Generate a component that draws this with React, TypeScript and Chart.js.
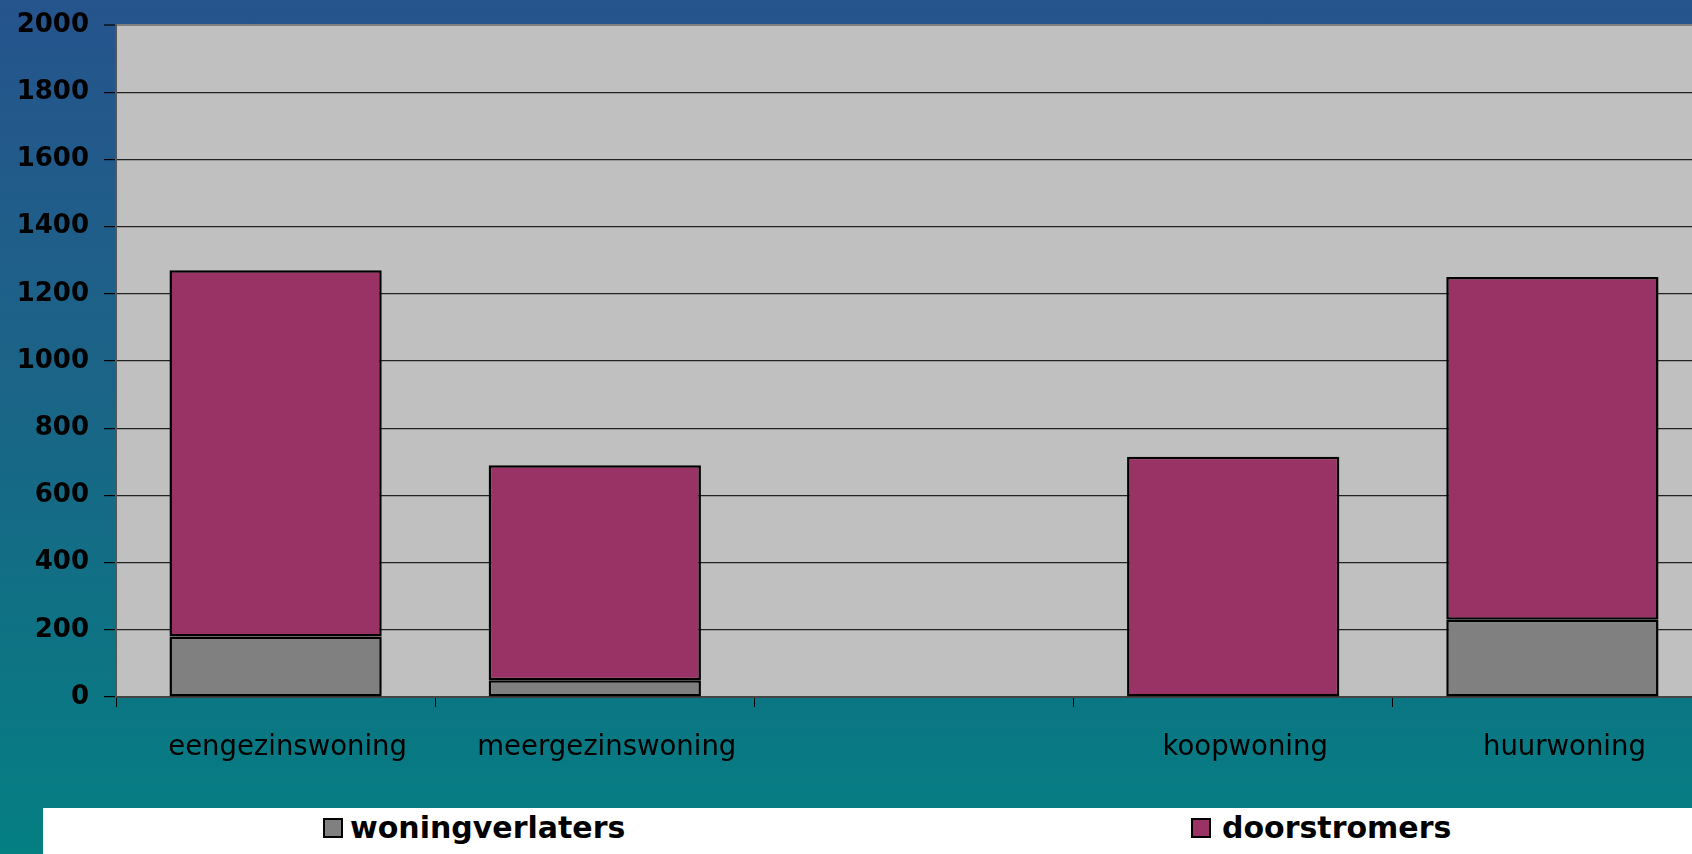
import React, { useEffect, useRef } from "react";
import { Chart, registerables } from "chart.js";

Chart.register(...registerables);

const categories = ["eengezinswoning", "meergezinswoning", "", "koopwoning", "huurwoning"];
const woningverlaters = [180, 50, null, null, 230];
const doorstromers = [1090, 640, null, 715, 1020];
const seriesNames = ["woningverlaters", "doorstromers"];
const seriesColors = ["#808080", "#993366"];
const yMin = 0;
const yMax = 2000;
const yStep = 200;

const CANVAS_W = 1712;
const CANVAS_H = 808;
const legendLefts = [323, 1191];

const plotBg = {
  id: "plotBg",
  beforeDraw(chart: any) {
    const { ctx, chartArea } = chart;
    const { left, top, right, bottom } = chartArea;
    ctx.save();
    ctx.fillStyle = "#c0c0c0";
    ctx.fillRect(left, top, right - left, bottom - top);
    ctx.restore();
  },
};

export default function App() {
  const ref = useRef<HTMLCanvasElement | null>(null);

  useEffect(() => {
    if (!ref.current) return;
    const chart = new Chart(ref.current, {
      type: "bar",
      data: {
        labels: categories,
        datasets: [
          {
            label: seriesNames[0],
            data: woningverlaters as any,
            backgroundColor: seriesColors[0],
            borderColor: "#000",
            borderWidth: 2.5,
            borderSkipped: false,
          },
          {
            label: seriesNames[1],
            data: doorstromers as any,
            backgroundColor: seriesColors[1],
            borderColor: "#000",
            borderWidth: 2.5,
            borderSkipped: false,
          },
        ],
      },
      options: {
        animation: false,
        responsive: false,
        maintainAspectRatio: false,
        layout: { padding: { top: 25, right: 0, left: 0, bottom: 0 } },
        datasets: { bar: { barPercentage: 0.665, categoryPercentage: 1 } } as any,
        plugins: {
          legend: { display: false },
          tooltip: { enabled: false },
        },
        scales: {
          x: {
            stacked: true,
            grid: {
              offset: true,
              drawOnChartArea: false,
              drawTicks: true,
              tickLength: 10,
              tickColor: "#000",
              tickWidth: 1,
            },
            border: { display: true, color: "#444", width: 2 },
            ticks: {
              color: "#000",
              font: { family: "'DejaVu Sans'", size: 27.5, weight: "normal" },
              padding: 24,
              labelOffset: 12,
              maxRotation: 0,
              autoSkip: false,
            },
            afterFit(scale: any) {
              scale.height = 111;
              scale.paddingLeft = 0;
              scale.paddingRight = 0;
            },
          },
          y: {
            stacked: true,
            min: yMin,
            max: yMax,
            grid: {
              color: (c: any) => (c.tick && c.tick.value === yMax ? "#808080" : "#222"),
              lineWidth: (c: any) => (c.tick && c.tick.value === yMax ? 2 : 1.2),
              tickLength: 12,
              tickColor: "#000",
              tickWidth: 1.2,
            },
            border: { display: true, color: "#555", width: 2 },
            ticks: {
              stepSize: yStep,
              color: "#000",
              font: { family: "'DejaVu Sans'", size: 26, weight: "bold" },
              padding: 15,
              callback: (v: any) => String(v),
            },
            afterFit(scale: any) {
              scale.width = 116;
              scale.paddingTop = 0;
              scale.paddingBottom = 0;
            },
          },
        },
      },
      plugins: [plotBg],
    });
    return () => chart.destroy();
  }, []);

  return (
    <div
      style={{
        position: "fixed",
        left: 0,
        top: 0,
        width: CANVAS_W,
        height: 854,
        overflow: "hidden",
        background: "linear-gradient(to bottom, #26548d 0%, #1b6487 45%, #047f82 100%)",
      }}
    >
      <div style={{ position: "absolute", left: 0, top: 0, width: CANVAS_W, height: CANVAS_H }}>
        <canvas ref={ref} width={CANVAS_W} height={CANVAS_H} style={{ display: "block" }} />
      </div>
      <div
        style={{
          position: "absolute",
          left: 43,
          top: CANVAS_H,
          width: CANVAS_W - 43,
          height: 854 - CANVAS_H,
          background: "#fff",
        }}
      />
      {seriesNames.map((name, i) => (
        <div
          key={name}
          style={{
            position: "absolute",
            left: legendLefts[i],
            top: 808,
            height: 40,
            display: "flex",
            alignItems: "center",
            fontFamily: "'DejaVu Sans'",
            fontWeight: "bold",
            fontSize: 30,
            lineHeight: "40px",
            color: "#000",
            whiteSpace: "nowrap",
          }}
        >
          <span
            style={{
              display: "inline-block",
              width: 20,
              height: 20,
              boxSizing: "border-box",
              border: "2px solid #000",
              background: seriesColors[i],
              marginRight: i === 0 ? 7 : 11,
            }}
          />
          <span>{name}</span>
        </div>
      ))}
    </div>
  );
}
